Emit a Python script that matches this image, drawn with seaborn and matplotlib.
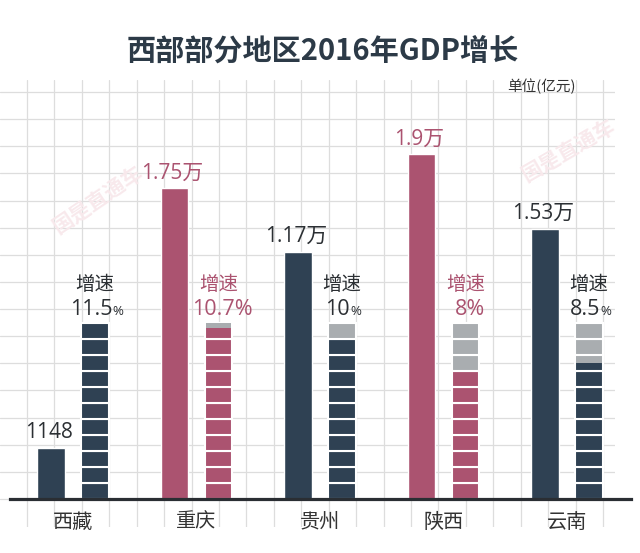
import numpy as np
import pandas as pd
import matplotlib
matplotlib.use('Agg')
import matplotlib.pyplot as plt
import seaborn as sns

# ---- data ----
regions = ['西藏', '重庆', '贵州', '陕西', '云南']
gdp_labels = ['1148', '1.75万', '1.17万', '1.9万', '1.53万']
# bar heights as drawn in the reference (grid squares)
gdp_bar_height = [1.87, 11.45, 9.12, 12.71, 9.95]
growth_rate = [11.5, 10.7, 10.0, 8.0, 8.5]
growth_labels = ['11.5', '10.7', '10', '8', '8.5']
growth_blocks = 11
highlighted = ['重庆', '陕西']
small_pct = ['西藏', '贵州', '云南']

sns.set_theme(style='white')
plt.rcParams['font.family'] = ['Open Sans', 'Noto Sans CJK SC', 'DejaVu Sans']
CJK = ['Noto Sans CJK SC', 'DejaVu Sans']
NUM = ['Open Sans', 'Noto Sans CJK SC', 'DejaVu Sans']

DARK = '#2f4153'
RED = '#ab5370'
GRAY = '#a9adb0'
TXT = '#2b2f33'

W, H = 640, 553
fig = plt.figure(figsize=(6.4, 5.53), dpi=100)
fig.patch.set_facecolor('white')


def rect(l, t, r, b):
    return [l / W, 1 - b / H, (r - l) / W, (b - t) / H]


# background grid
bg = fig.add_axes(rect(0, 80, 615, 527))
bg.set_xlim(0, 615)
bg.set_ylim(527, 80)
bg.set_xticks(27 + 27.43 * np.arange(22))
bg.set_yticks(92 + 27.13 * np.arange(16))
bg.grid(True, color='#dddddd', lw=0.9)
bg.tick_params(length=0, labelbottom=False, labelleft=False)
for s in bg.spines.values():
    s.set_visible(False)
bg.set_facecolor('none')

# main axes: GDP bars
ax = fig.add_axes(rect(10, 92, 631, 499))
ax.set_facecolor('none')
df = pd.DataFrame({'pos': np.arange(len(regions)) - 0.178,
                   'h': gdp_bar_height, 'region': regions})
pal = {r: (RED if r in highlighted else DARK) for r in regions}
sns.barplot(data=df, x='pos', y='h', hue='region', palette=pal,
            native_scale=True, width=0.22, saturation=1, legend=False,
            errorbar=None, ax=ax)
ax.set_xlim(-0.51, 4.518)
ax.set_ylim(0, 15.0)
ax.set_xticks(range(len(regions)))
ax.set_xticklabels(regions, fontsize=14.5, color='#333333', family=CJK)
ax.tick_params(axis='x', length=0, pad=9)
ax.set_yticks([])
ax.set_xlabel('')
ax.set_ylabel('')
for s in ax.spines.values():
    s.set_visible(False)

for i, (r, h, lbl) in enumerate(zip(regions, gdp_bar_height, gdp_labels)):
    c = RED if r in highlighted else TXT
    ax.annotate(lbl, xy=(i - 0.178, h), xytext=(-1.5, 11),
                textcoords='offset points', ha='center', va='center',
                fontsize=15, color=c, family=NUM)

# growth blocks
ax2 = ax.twinx()
ax2.set_ylim(0, 407 / 16)
ax2.set_yticks([])
for s in ['top', 'left', 'right']:
    ax2.spines[s].set_visible(False)
ax2.spines['bottom'].set_color('#2a2e33')
ax2.spines['bottom'].set_linewidth(2.3)

for i, (r, v) in enumerate(zip(regions, growth_rate)):
    fill = RED if r in highlighted else DARK
    x = i + 0.178
    for k in range(growth_blocks):
        if v >= k + 1:
            ax2.bar(x, 1, bottom=k, width=0.22, color=fill,
                    edgecolor='white', linewidth=1.5)
        elif v > k:
            ax2.bar(x, 1, bottom=k, width=0.22, color=fill,
                    edgecolor='white', linewidth=1.5)
            ax2.bar(x, k + 1 - v, bottom=v, width=0.22 - 0.012,
                    color=GRAY, linewidth=0)
        else:
            ax2.bar(x, 1, bottom=k, width=0.22, color=GRAY,
                    edgecolor='white', linewidth=1.5)

for i, (r, lbl) in enumerate(zip(regions, growth_labels)):
    c = RED if r in highlighted else TXT
    x = i + 0.178
    top = growth_blocks
    ax2.annotate('增速', xy=(x, top), xytext=(0, 27.5),
                 textcoords='offset points', ha='center', va='center',
                 fontsize=14, color=c, family=CJK)
    if r in small_pct:
        t = ax2.annotate(lbl, xy=(x, top), xytext=(-3, 10),
                         textcoords='offset points', ha='center',
                         va='center', fontsize=15.5, color=c, family=NUM)
        ax2.annotate('%', xy=(1, 0.08), xycoords=t, xytext=(0.5, 0),
                     textcoords='offset points', ha='left', va='bottom',
                     fontsize=9.5, color=c, family=NUM)
    else:
        ax2.annotate(lbl + '%', xy=(x, top), xytext=(3, 10),
                     textcoords='offset points', ha='center', va='center',
                     fontsize=15.5, color=c, family=NUM)

# title and unit
fig.text(323 / W, 1 - 51 / H, '西部部分地区2016年GDP增长', ha='center',
         va='center', fontsize=21, fontweight='bold', color='#2c3a47',
         family=CJK)
fig.text(541 / W, 1 - 86 / H, '单位(亿元)', ha='center', va='center',
         fontsize=10.5, color='#333333', family=CJK)

# watermarks
for (wx, wy, rot) in [(98, 199, 34), (568, 150, 30)]:
    fig.text(wx / W, 1 - wy / H, '国是直通车', ha='center', va='center',
             rotation=rot, fontsize=15, fontweight='bold', color='#f8e9ec',
             family=CJK)

fig.savefig('out.png', dpi=100, facecolor='white')
